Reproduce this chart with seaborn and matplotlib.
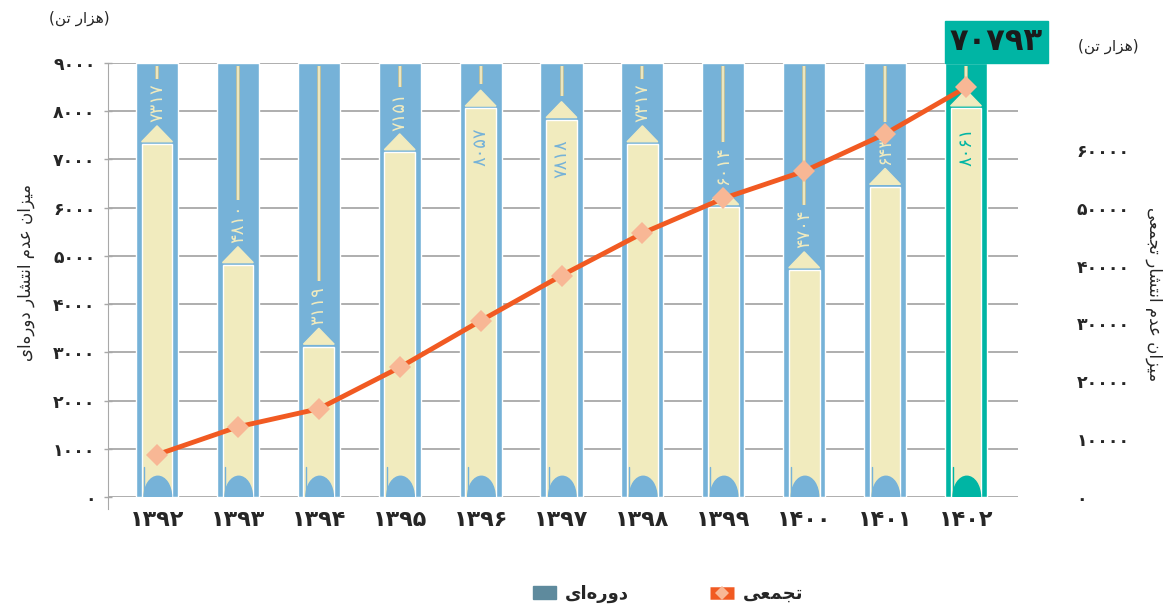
import numpy as np
import pandas as pd
import matplotlib
matplotlib.use('Agg')
import matplotlib.pyplot as plt
from matplotlib.patches import Polygon, Ellipse, Rectangle, Patch
from matplotlib.lines import Line2D
import seaborn as sns

# داده‌ها
years = ['1392', '1393', '1394', '1395', '1396', '1397', '1398', '1399', '1400', '1401', '1402']
periodic = [7317, 4810, 3119, 7151, 8057, 7818, 7317, 6014, 4704, 6434, 8061]
total_label = 70793
left_ticks = [0, 1000, 2000, 3000, 4000, 5000, 6000, 7000, 8000, 9000]
right_ticks = [0, 10000, 20000, 30000, 40000, 50000, 60000]

BLUE = '#76b2d8'
TEAL = '#00b5a4'
CREAM = '#f1ebbe'
ORANGE = '#f15a22'
PEACH = '#f8b795'
GRID = '#a8a8a8'

sns.set_style('white')
plt.rcParams['font.family'] = ['DejaVu Sans']

FA_DIGITS = str.maketrans('0123456789', '۰۱۲۳۴۵۶۷۸۹')


def fa(n):
    return str(n).translate(FA_DIGITS)


# شکل‌دهی ساده حروف فارسی (ایزوله، پایانی، آغازی، میانی)
FORMS = {
    'ا': ('\uFE8D', '\uFE8E', None, None),
    'ت': ('\uFE95', '\uFE96', '\uFE97', '\uFE98'),
    'ج': ('\uFE9D', '\uFE9E', '\uFE9F', '\uFEA0'),
    'د': ('\uFEA9', '\uFEAA', None, None),
    'ر': ('\uFEAD', '\uFEAE', None, None),
    'ز': ('\uFEAF', '\uFEB0', None, None),
    'ش': ('\uFEB5', '\uFEB6', '\uFEB7', '\uFEB8'),
    'ع': ('\uFEC9', '\uFECA', '\uFECB', '\uFECC'),
    'م': ('\uFEE1', '\uFEE2', '\uFEE3', '\uFEE4'),
    'ن': ('\uFEE5', '\uFEE6', '\uFEE7', '\uFEE8'),
    'ه': ('\uFEE9', '\uFEEA', '\uFEEB', '\uFEEC'),
    'و': ('\uFEED', '\uFEEE', None, None),
    'ی': ('\uFEEF', '\uFEF0', '\uFEF3', '\uFEF4'),
}


def rtl(text):
    out = []
    for i, ch in enumerate(text):
        if ch not in FORMS:
            if ch != '\u200c':
                out.append(ch)
            continue
        prev = text[i - 1] if i > 0 else ''
        nxt = text[i + 1] if i + 1 < len(text) else ''
        j_prev = prev in FORMS and FORMS[prev][2] is not None
        j_next = FORMS[ch][2] is not None and nxt in FORMS
        iso, fin, ini, med = FORMS[ch]
        if j_prev and j_next:
            out.append(med)
        elif j_prev:
            out.append(fin)
        elif j_next:
            out.append(ini)
        else:
            out.append(iso)
    return ''.join(out)[::-1]


unit = '(' + rtl('هزار تن') + ')'

n = len(years)
pos = np.arange(n)
cumulative = np.cumsum(periodic)
col_colors = [BLUE] * (n - 1) + [TEAL]
df = pd.DataFrame({'year': years, 'value': periodic})

fig = plt.figure(figsize=(11.66, 6.08), dpi=100)
ax = fig.add_axes([108 / 1166, 1 - 497 / 608, 910 / 1166, 434 / 608])
ymax = 9000

# ستون‌های زمینه
ax.bar(pos, [ymax] * n, width=0.52, color=col_colors, zorder=1)
# مدادها
sns.barplot(data=df, x='year', y='value', hue='year', palette=[CREAM] * n,
            width=0.38, legend=False, ax=ax, zorder=2, saturation=1)
for i, v in enumerate(periodic):
    tri = Polygon([[i - 0.19, v + 50], [i + 0.19, v + 50], [i, v + 380]],
                  closed=True, color=CREAM, zorder=3)
    ax.add_patch(tri)
    ax.add_patch(Ellipse((i + 0.01, 0), 0.34, 860, color=col_colors[i], zorder=4))
    ax.plot([i - 0.16, i - 0.16], [0, 620], color=col_colors[i], lw=1, zorder=4)
    inside = v > 7700
    if inside:
        ly = v - 800
        lead_end = v + 500
        tc = TEAL if i == n - 1 else BLUE
    else:
        ly = v + 850
        lead_end = v + 1350
        tc = CREAM
    ax.plot([i, i], [ymax - 60, lead_end], color='#cfc490', lw=2.6, zorder=3,
            solid_capstyle='butt')
    ax.plot([i, i], [ymax - 60, lead_end], color='#f3edc8', lw=1.2, zorder=3,
            solid_capstyle='butt')
    ax.text(i, ly, fa(v), rotation=90, ha='center', va='center', fontsize=13,
            color=tc, zorder=5)

ax.set_xlim(-0.606, 10.643)
ax.set_ylim(0, ymax)
ax.set_yticks(left_ticks)
ax.set_yticklabels([fa(t) for t in left_ticks], fontsize=12.5, fontweight='bold')
ax.set_xticks(pos)
ax.set_xticklabels([fa(y) for y in years], fontsize=16, fontweight='bold')
ax.set_xticks(np.arange(-0.5, n, 1), minor=True)
ax.tick_params(axis='x', which='major', length=0, pad=9)
ax.tick_params(axis='x', which='minor', length=9, width=1, color=GRID, direction='out')
ax.tick_params(axis='y', length=6, width=1, color=GRID, direction='inout', pad=6)
ax.set_xlabel('')
ax.set_ylabel('')
ax.set_axisbelow(True)
ax.yaxis.grid(True, color=GRID, lw=1.3)
for s in ['top', 'right', 'bottom']:
    ax.spines[s].set_visible(False)
ax.spines['left'].set_color(GRID)
ax.spines['left'].set_bounds(-250, ymax)

# جعبه مجموع
ax.add_patch(Rectangle((9.74, ymax), 1.27, 880, color=TEAL, clip_on=False, zorder=6))
ax.text(10.375, ymax + 440, fa(total_label), ha='center', va='center', fontsize=22,
        fontweight='bold', color='#1b1b1b', zorder=7, clip_on=False)

# محور تجمعی
ax2 = ax.twinx()
sns.lineplot(x=pos, y=cumulative, ax=ax2, color=ORANGE, lw=3.5, marker='D',
             markersize=11, markerfacecolor=PEACH, markeredgewidth=0, zorder=10)
ax2.set_ylim(0, 75000)
ax2.set_yticks(right_ticks)
ax2.set_yticklabels([fa(t) for t in right_ticks], fontsize=12.5,
                    fontweight='bold', ha='left')
ax2.tick_params(axis='y', length=0, pad=42)
for s in ax2.spines.values():
    s.set_visible(False)
ax2.set_xlim(ax.get_xlim())

fig.text(79 / 1166, 1 - 18 / 608, unit, ha='center', va='center', fontsize=11)
fig.text(1108 / 1166, 1 - 46 / 608, unit, ha='center', va='center', fontsize=11)
fig.text(26 / 1166, 1 - 272 / 608, rtl('میزان عدم انتشار دوره\u200cای'), rotation=90,
         ha='center', va='center', fontsize=12)
fig.text(1154 / 1166, 1 - 294 / 608, rtl('میزان عدم انتشار تجمعی'), rotation=-90,
         ha='center', va='center', fontsize=12)

handles = [Patch(color='#5e8a9d'),
           Line2D([0], [0], color=ORANGE, lw=9, marker='D', markersize=7,
                  markerfacecolor=PEACH, markeredgewidth=0, solid_capstyle='butt')]
fig.legend(handles, [rtl('دوره\u200cای'), rtl('تجمعی')], loc='center',
           bbox_to_anchor=(668 / 1166, 1 - 594 / 608), ncol=2, frameon=False,
           handlelength=1.3, handletextpad=0.5, columnspacing=4.5,
           prop={'size': 13, 'weight': 'bold'})

fig.savefig('out.png', dpi=100)
